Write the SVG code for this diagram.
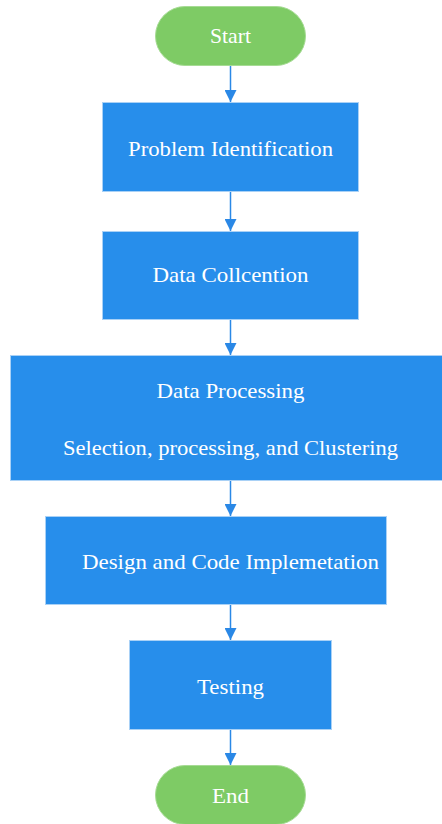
<svg xmlns="http://www.w3.org/2000/svg" width="442" height="824" viewBox="0 0 442 824">
<style>
.term{fill:#7ecb65;stroke:#a6db94;stroke-width:1}
.box{fill:#278eeb;stroke:#a9d1f6;stroke-width:1}
.lbl{font-family:"Liberation Serif",serif;font-size:21px;fill:#ffffff;text-anchor:middle;dominant-baseline:central}
.conn{stroke:#2a88e6;stroke-width:1.5;fill:none}
</style>
<defs>
<marker id="ah" markerWidth="12" markerHeight="12" refX="12" refY="6" orient="auto" markerUnits="userSpaceOnUse">
<path d="M0,0 L12,6 L0,12 Z" fill="#2a88e6"/>
</marker>
</defs>
<rect width="442" height="824" fill="#ffffff"/>
<g id="connectors">
<line class="conn" x1="230.5" y1="66" x2="230.5" y2="102" marker-end="url(#ah)"/>
<line class="conn" x1="230.5" y1="192" x2="230.5" y2="231" marker-end="url(#ah)"/>
<line class="conn" x1="230.5" y1="320" x2="230.5" y2="355" marker-end="url(#ah)"/>
<line class="conn" x1="230.5" y1="481" x2="230.5" y2="516" marker-end="url(#ah)"/>
<line class="conn" x1="230.5" y1="605" x2="230.5" y2="640" marker-end="url(#ah)"/>
<line class="conn" x1="230.5" y1="730" x2="230.5" y2="765" marker-end="url(#ah)"/>
</g>
<g id="start">
<rect class="term" x="155.5" y="6.5" width="150" height="59" rx="29.5"/>
<text class="lbl" x="230.5" y="36" textLength="41" lengthAdjust="spacingAndGlyphs">Start</text>
</g>
<g id="problem">
<rect class="box" x="102.5" y="102.5" width="256" height="89"/>
<text class="lbl" x="230.5" y="149" textLength="205" lengthAdjust="spacingAndGlyphs">Problem Identification</text>
</g>
<g id="collection">
<rect class="box" x="102.5" y="231.5" width="256" height="88"/>
<text class="lbl" x="230.5" y="275" textLength="156" lengthAdjust="spacingAndGlyphs">Data Collcention</text>
</g>
<g id="processing">
<rect class="box" x="10.5" y="355.5" width="432" height="125"/>
<text class="lbl" x="230.5" y="391" textLength="148" lengthAdjust="spacingAndGlyphs">Data Processing</text>
<text class="lbl" x="230.5" y="448" textLength="335" lengthAdjust="spacingAndGlyphs">Selection, processing, and Clustering</text>
</g>
<g id="design">
<rect class="box" x="45.5" y="516.5" width="341" height="88"/>
<text class="lbl" x="230.5" y="562" textLength="297" lengthAdjust="spacingAndGlyphs">Design and Code Implemetation</text>
</g>
<g id="testing">
<rect class="box" x="129.5" y="640.5" width="202" height="89"/>
<text class="lbl" x="230.5" y="687" textLength="67" lengthAdjust="spacingAndGlyphs">Testing</text>
</g>
<g id="end">
<rect class="term" x="155.5" y="765.5" width="150" height="59" rx="29.5"/>
<text class="lbl" x="230.5" y="796" textLength="37" lengthAdjust="spacingAndGlyphs">End</text>
</g>
</svg>
